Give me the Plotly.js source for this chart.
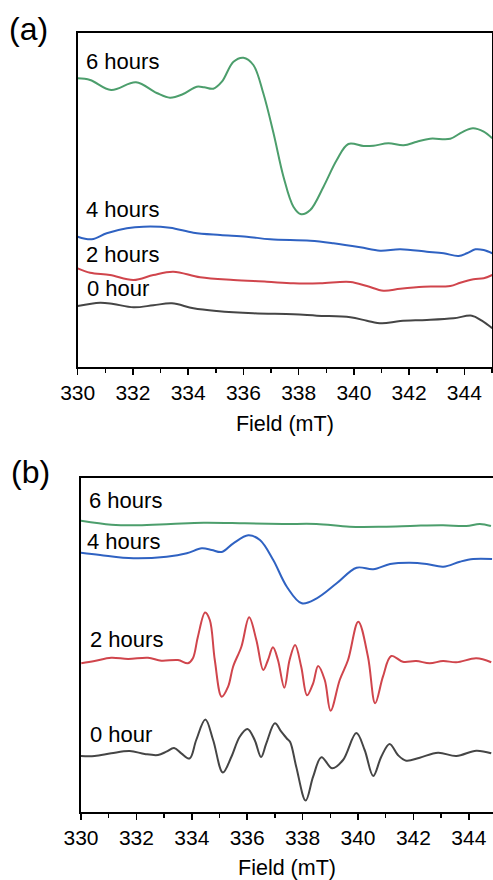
<!DOCTYPE html>
<html>
<head>
<meta charset="utf-8">
<script src="https://cdn.plot.ly/plotly-3.0.1.min.js"></script>
<style>
html,body{margin:0;padding:0;background:#fff;}
#chart{width:493px;height:880px;}
</style>
</head>
<body>
<div id="chart"></div>
<script>
// ---- Panel (a) data: Field (mT) and EPR intensity (arb. units) ----
const fieldA6 = [330.00,330.45,331.21,332.11,332.86,333.34,333.80,334.31,334.58,334.91,335.22,335.64,336.00,336.36,336.72,337.09,337.45,337.81,338.09,338.42,338.90,339.38,339.80,340.35,340.71,341.25,341.80,342.28,342.76,343.49,343.91,344.31,344.70,345.01];
const intA6   = [288.7,287,277,284.7,274,269.3,272.7,280.3,279.7,278.3,285.3,305.3,309.3,302,273.7,233.7,190.3,160.3,152.7,157,180.3,207,223,221,221.3,223.7,221.7,225.3,228.3,228.3,234.7,238.7,235.3,228.7];

const fieldA4 = [330.00,330.51,331.05,331.78,332.38,333.34,334.19,335.16,336.12,336.97,338.42,339.26,340.23,340.95,341.68,342.64,343.25,343.79,344.09,344.40,344.70,345.01];
const intA4   = [130.3,127.7,133.7,138.7,140.3,139.3,134.3,132,130.3,127.7,126.3,123.7,119.7,116.3,117.7,115.3,113.7,111,113.7,117.7,117,113.7];

const fieldA2 = [330.00,330.45,331.17,332.02,332.74,333.46,334.43,335.64,336.85,337.81,338.78,339.87,340.47,341.07,341.68,342.52,343.49,343.85,344.33,344.70,345.01];
const intA2   = [98.7,94.3,92,87,92,95.3,89.7,87,85.3,83.7,83.7,85,81,76.3,78.3,80.3,81,84.3,87.7,88.7,92];

const fieldA0 = [330.00,330.81,331.29,332.02,332.74,333.41,334.19,335.03,336.36,337.81,338.66,339.87,340.47,341.01,341.68,342.64,343.61,344.27,344.63,345.01];
const intA0   = [61,64.3,63,59.7,61.7,63.7,58.7,56,53.7,52.7,51.3,49.7,46.3,43.7,46,47,48.7,51.3,46.3,38.7];

// ---- Panel (b) data ----
const fieldB6 = [330.00,331.10,332.06,333.24,334.43,335.91,337.29,338.50,339.70,340.90,342.10,343.07,343.91,344.40,344.80];
const intB6   = [291.3,287.3,286.7,288,289.3,288.7,288,288,285.3,285.3,286.3,286.7,286,288,286];

const fieldB4 = [330.00,330.69,331.89,333.09,333.82,334.36,334.72,335.08,335.50,336.04,336.46,336.94,337.43,337.97,338.51,339.23,339.95,340.55,341.16,341.88,342.48,343.08,343.68,344.16,344.84];
const intB4   = [259.3,257,253.7,255.3,258.7,263.7,262,260,268.7,276.7,272,252,225.3,208.7,213.7,228.7,244.3,242.7,248,249.3,248,245.3,250.3,253,253];

const fieldB2 = [330.01,330.49,331.09,331.70,332.42,332.90,333.50,333.86,334.04,334.22,334.48,334.65,334.83,335.08,335.31,335.49,335.79,336.07,336.33,336.58,336.75,336.93,337.11,337.34,337.53,337.73,337.95,338.16,338.38,338.56,338.80,339.01,339.34,339.64,340.01,340.36,340.62,340.90,341.20,341.62,342.10,342.59,343.07,343.55,344.27,344.81];
const intB2   = [148.7,151,154.3,153,154.3,151.3,152,148.7,153.7,175.3,199.5,192,152,115.3,125.3,145.3,165.3,194.7,172,142,152,164.7,152,124.3,152,167,145.3,116.7,128.7,146,132,101.3,132,152,190.3,155.3,108.7,135.3,156,150.3,151,148.7,151,149.7,153.7,149.7];

const fieldB0 = [330.00,330.49,331.09,331.76,332.30,332.78,333.08,333.36,333.62,333.92,334.16,334.49,334.77,335.12,335.43,335.73,336.01,336.27,336.50,336.69,337.00,337.23,337.43,337.55,337.77,338.11,338.38,338.68,339.07,339.46,339.94,340.24,340.55,340.84,341.14,341.44,341.74,342.23,342.89,343.55,344.27,344.81];
const intB0   = [56,56,58.7,61,58,57,60.3,64,58.7,53.5,72,92.5,72,39.5,55.3,75.3,83,72,55,68.7,88.7,80.3,73.5,70,45.3,11.5,35.3,54.7,43.7,52,79,62,36,55.3,68,57,51.3,54.3,59.3,56,61.3,58.7];

const xTicks = [330,332,334,336,338,340,342,344];
const seriesNames = ['6 hours','4 hours','2 hours','0 hour'];
const xTitle = 'Field (mT)';

// ---- styling ----
const W = 493, H = 880;
const FONT = 'Liberation Sans, Arial, sans-serif';
const colors = {g:'#4c9e6c', b:'#2f62c2', r:'#d0454c', k:'#454545'};
const px = v => v / W;
const py = v => 1 - v / H;

function tr(x, y, c, xa, ya, name){
  return {x:x, y:y, type:'scatter', mode:'lines', name:name,
    line:{color:c, width:2, shape:'spline', smoothing:1},
    xaxis:xa, yaxis:ya, hoverinfo:'skip'};
}

const data = [
  tr(fieldA6,intA6,colors.g,'x','y',seriesNames[0]),
  tr(fieldA4,intA4,colors.b,'x','y',seriesNames[1]),
  tr(fieldA2,intA2,colors.r,'x','y',seriesNames[2]),
  tr(fieldA0,intA0,colors.k,'x','y',seriesNames[3]),
  tr(fieldB6,intB6,colors.g,'x2','y2',seriesNames[0]),
  tr(fieldB4,intB4,colors.b,'x2','y2',seriesNames[1]),
  tr(fieldB2,intB2,colors.r,'x2','y2',seriesNames[2]),
  tr(fieldB0,intB0,colors.k,'x2','y2',seriesNames[3])
];

function xax(domain, range, anchor){
  return {domain:domain, range:range, anchor:anchor,
    tickmode:'array', tickvals:xTicks, ticktext:xTicks.map(String),
    ticks:'outside', ticklen:6, tickwidth:1.5, tickcolor:'#000',
    minor:{tickvals:[331,333,335,337,339,341,343,345], ticks:'outside', ticklen:3.5, tickwidth:1.5, tickcolor:'#000'},
    showline:true, linecolor:'#000', linewidth:2, mirror:true,
    showgrid:false, zeroline:false,
    tickfont:{family:FONT, size:21, color:'#000'},
    title:{text:xTitle, font:{family:FONT, size:21.5, color:'#000'}, standoff:13}};
}
function yax(domain, anchor, mirror){
  return {domain:domain, range:[0,334], anchor:anchor,
    showline:true, linecolor:'#000', linewidth:2, mirror:mirror,
    showticklabels:false, ticks:'', showgrid:false, zeroline:false};
}

function lab(text, x, y, xr, yr){
  return {text:text, x:x, y:y, xref:xr, yref:yr, xanchor:'left', yanchor:'middle',
    showarrow:false, font:{family:FONT, size:22, color:'#000'}};
}

const layout = {
  width:W, height:H, margin:{l:0,r:0,t:0,b:0},
  paper_bgcolor:'#fff', plot_bgcolor:'#fff', showlegend:false,
  xaxis: xax([px(77.7), px(492)], [330,345], 'y'),
  yaxis: yax([py(367), py(33)], 'x', true),
  xaxis2: xax([px(81), 1], [330, 330 + (W-81)/27.7], 'y2'),
  yaxis2: yax([py(812), py(478)], 'x2', false),
  annotations:[
    {text:'(a)', x:px(7), y:py(29), xref:'paper', yref:'paper', xanchor:'left', yanchor:'middle', showarrow:false, font:{family:FONT, size:32, color:'#000'}},
    {text:'(b)', x:px(9), y:py(472), xref:'paper', yref:'paper', xanchor:'left', yanchor:'middle', showarrow:false, font:{family:FONT, size:32, color:'#000'}},
    lab(seriesNames[0], 330.23, 305, 'x', 'y'),
    lab(seriesNames[1], 330.23, 157, 'x', 'y'),
    lab(seriesNames[2], 330.23, 112, 'x', 'y'),
    lab(seriesNames[3], 330.26, 79, 'x', 'y'),
    lab(seriesNames[0], 330.21, 312, 'x2', 'y2'),
    lab(seriesNames[1], 330.14, 271, 'x2', 'y2'),
    lab(seriesNames[2], 330.25, 172.7, 'x2', 'y2'),
    lab(seriesNames[3], 330.24, 77.7, 'x2', 'y2')
  ]
};

Plotly.newPlot('chart', data, layout, {staticPlot:true, displayModeBar:false});
</script>
</body>
</html>
